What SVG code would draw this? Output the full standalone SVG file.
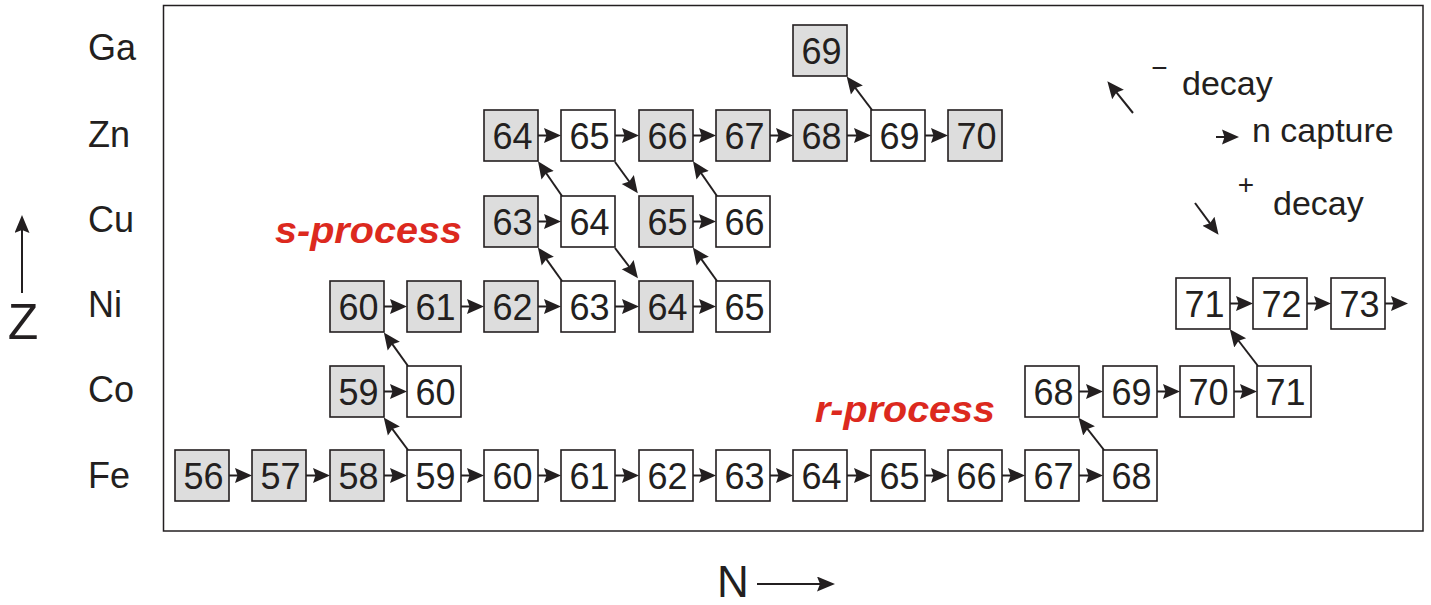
<svg xmlns="http://www.w3.org/2000/svg" width="1431" height="605" viewBox="0 0 1431 605">
<style>
.b{fill:#fff;stroke:#231f20;stroke-width:1.6}
.g{fill:#dddddd;stroke:#231f20;stroke-width:1.6}
.n{font-family:"Liberation Sans",Arial,sans-serif;font-size:36px;fill:#231f20;text-anchor:middle}
.lab{font-family:"Liberation Sans",Arial,sans-serif;font-size:36px;fill:#231f20}
.leg{font-family:"Liberation Sans",Arial,sans-serif;font-size:34px;fill:#231f20}
.proc{font-family:"Liberation Sans",Arial,sans-serif;font-size:36px;font-weight:bold;font-style:italic;fill:#dc291e}
.c line{stroke:#231f20;stroke-width:2;marker-end:url(#ah)}
.ax{stroke:#231f20;stroke-width:2;marker-end:url(#ahb)}
</style>
<defs>
<marker id="ah" markerUnits="userSpaceOnUse" markerWidth="18" markerHeight="18" refX="8" refY="8.5" orient="auto">
<path d="M0,1 L17,8.5 L0,16 L2.5,8.5 z" fill="#231f20"/>
</marker>
<marker id="ahb" markerUnits="userSpaceOnUse" markerWidth="19" markerHeight="16" refX="8" refY="7.5" orient="auto">
<path d="M0,0 L18,7.5 L0,15 L3,7.5 z" fill="#231f20"/>
</marker>
</defs>
<rect x="163.5" y="5.5" width="1259.5" height="525.5" fill="none" stroke="#231f20" stroke-width="1.5"/>
<g id="labels">
<text class="lab" x="88" y="60">Ga</text>
<text class="lab" x="88" y="147">Zn</text>
<text class="lab" x="88" y="232">Cu</text>
<text class="lab" x="88" y="317">Ni</text>
<text class="lab" x="88" y="402">Co</text>
<text class="lab" x="88" y="488">Fe</text>
</g>
<g id="axes">
<line class="ax" x1="22" y1="293" x2="22" y2="225"/>
<text class="lab" x="23" y="339" style="font-size:50px;text-anchor:middle">Z</text>
<line class="ax" x1="757" y1="584" x2="825" y2="584"/>
<text class="lab" x="717" y="597" style="font-size:44px">N</text>
</g>
<text class="proc" x="275" y="243" textLength="187" lengthAdjust="spacingAndGlyphs">s-process</text>
<text class="proc" x="815" y="422" textLength="180" lengthAdjust="spacingAndGlyphs">r-process</text>
<g id="legend">
<g class="c">
<line x1="1133" y1="113" x2="1113" y2="88.2"/>
<line x1="1216" y1="137" x2="1230" y2="137"/>
<line x1="1195" y1="203" x2="1213.2" y2="227.6"/>
</g>
<text class="leg" x="1159.5" y="77" style="font-size:28px;text-anchor:middle">−</text>
<text class="leg" x="1182" y="95">decay</text>
<text class="leg" x="1252" y="142">n capture</text>
<text class="leg" x="1246" y="194" style="font-size:28px;text-anchor:middle">+</text>
<text class="leg" x="1273" y="215">decay</text>
</g>
<g id="fe56"><rect class="g" x="175" y="450" width="54" height="51"/><text class="n" x="203.5" y="488.5">56</text></g>
<g id="fe57"><rect class="g" x="252" y="450" width="54" height="51"/><text class="n" x="280.5" y="488.5">57</text></g>
<g id="fe58"><rect class="g" x="330" y="450" width="54" height="51"/><text class="n" x="358.5" y="488.5">58</text></g>
<g id="fe59"><rect class="b" x="407" y="450" width="54" height="51"/><text class="n" x="435.5" y="488.5">59</text></g>
<g id="fe60"><rect class="b" x="484" y="450" width="54" height="51"/><text class="n" x="512.5" y="488.5">60</text></g>
<g id="fe61"><rect class="b" x="561" y="450" width="54" height="51"/><text class="n" x="589.5" y="488.5">61</text></g>
<g id="fe62"><rect class="b" x="639" y="450" width="54" height="51"/><text class="n" x="667.5" y="488.5">62</text></g>
<g id="fe63"><rect class="b" x="716" y="450" width="54" height="51"/><text class="n" x="744.5" y="488.5">63</text></g>
<g id="fe64"><rect class="b" x="793" y="450" width="54" height="51"/><text class="n" x="821.5" y="488.5">64</text></g>
<g id="fe65"><rect class="b" x="871" y="450" width="54" height="51"/><text class="n" x="899.5" y="488.5">65</text></g>
<g id="fe66"><rect class="b" x="948" y="450" width="54" height="51"/><text class="n" x="976.5" y="488.5">66</text></g>
<g id="fe67"><rect class="b" x="1025" y="450" width="54" height="51"/><text class="n" x="1053.5" y="488.5">67</text></g>
<g id="fe68"><rect class="b" x="1103" y="450" width="54" height="51"/><text class="n" x="1131.5" y="488.5">68</text></g>
<g id="co59"><rect class="g" x="330" y="366" width="54" height="51"/><text class="n" x="358.5" y="404.5">59</text></g>
<g id="co60"><rect class="b" x="407" y="366" width="54" height="51"/><text class="n" x="435.5" y="404.5">60</text></g>
<g id="co68"><rect class="b" x="1025" y="366" width="54" height="51"/><text class="n" x="1053.5" y="404.5">68</text></g>
<g id="co69"><rect class="b" x="1103" y="366" width="54" height="51"/><text class="n" x="1131.5" y="404.5">69</text></g>
<g id="co70"><rect class="b" x="1180" y="366" width="54" height="51"/><text class="n" x="1208.5" y="404.5">70</text></g>
<g id="co71"><rect class="b" x="1257" y="366" width="54" height="51"/><text class="n" x="1285.5" y="404.5">71</text></g>
<g id="ni60"><rect class="g" x="330" y="281" width="54" height="51"/><text class="n" x="358.5" y="319.5">60</text></g>
<g id="ni61"><rect class="g" x="407" y="281" width="54" height="51"/><text class="n" x="435.5" y="319.5">61</text></g>
<g id="ni62"><rect class="g" x="484" y="281" width="54" height="51"/><text class="n" x="512.5" y="319.5">62</text></g>
<g id="ni63"><rect class="b" x="561" y="281" width="54" height="51"/><text class="n" x="589.5" y="319.5">63</text></g>
<g id="ni64"><rect class="g" x="639" y="281" width="54" height="51"/><text class="n" x="667.5" y="319.5">64</text></g>
<g id="ni65"><rect class="b" x="716" y="281" width="54" height="51"/><text class="n" x="744.5" y="319.5">65</text></g>
<g id="ni71"><rect class="b" x="1176" y="278" width="54" height="51"/><text class="n" x="1204.5" y="316.5">71</text></g>
<g id="ni72"><rect class="b" x="1253" y="278" width="54" height="51"/><text class="n" x="1281.5" y="316.5">72</text></g>
<g id="ni73"><rect class="b" x="1331" y="278" width="54" height="51"/><text class="n" x="1359.5" y="316.5">73</text></g>
<g id="cu63"><rect class="g" x="484" y="196" width="54" height="51"/><text class="n" x="512.5" y="234.5">63</text></g>
<g id="cu64"><rect class="b" x="561" y="196" width="54" height="51"/><text class="n" x="589.5" y="234.5">64</text></g>
<g id="cu65"><rect class="g" x="639" y="196" width="54" height="51"/><text class="n" x="667.5" y="234.5">65</text></g>
<g id="cu66"><rect class="b" x="716" y="196" width="54" height="51"/><text class="n" x="744.5" y="234.5">66</text></g>
<g id="zn64"><rect class="g" x="484" y="110" width="54" height="51"/><text class="n" x="512.5" y="148.5">64</text></g>
<g id="zn65"><rect class="b" x="561" y="110" width="54" height="51"/><text class="n" x="589.5" y="148.5">65</text></g>
<g id="zn66"><rect class="g" x="639" y="110" width="54" height="51"/><text class="n" x="667.5" y="148.5">66</text></g>
<g id="zn67"><rect class="g" x="716" y="110" width="54" height="51"/><text class="n" x="744.5" y="148.5">67</text></g>
<g id="zn68"><rect class="g" x="793" y="110" width="54" height="51"/><text class="n" x="821.5" y="148.5">68</text></g>
<g id="zn69"><rect class="b" x="871" y="110" width="54" height="51"/><text class="n" x="899.5" y="148.5">69</text></g>
<g id="zn70"><rect class="g" x="948" y="110" width="54" height="51"/><text class="n" x="976.5" y="148.5">70</text></g>
<g id="ga69"><rect class="g" x="793" y="25" width="54" height="51"/><text class="n" x="821.5" y="63.5">69</text></g>
<g id="connectors" class="c">
<line x1="229" y1="475.5" x2="243" y2="475.5"/>
<line x1="306" y1="475.5" x2="321" y2="475.5"/>
<line x1="384" y1="475.5" x2="398" y2="475.5"/>
<line x1="461" y1="475.5" x2="475" y2="475.5"/>
<line x1="538" y1="475.5" x2="552" y2="475.5"/>
<line x1="615" y1="475.5" x2="630" y2="475.5"/>
<line x1="693" y1="475.5" x2="707" y2="475.5"/>
<line x1="770" y1="475.5" x2="784" y2="475.5"/>
<line x1="847" y1="475.5" x2="862" y2="475.5"/>
<line x1="925" y1="475.5" x2="939" y2="475.5"/>
<line x1="1002" y1="475.5" x2="1016" y2="475.5"/>
<line x1="1079" y1="475.5" x2="1094" y2="475.5"/>
<line x1="384" y1="391.5" x2="398" y2="391.5"/>
<line x1="1079" y1="391.5" x2="1094" y2="391.5"/>
<line x1="1157" y1="391.5" x2="1171" y2="391.5"/>
<line x1="1234" y1="391.5" x2="1248" y2="391.5"/>
<line x1="384" y1="306.5" x2="398" y2="306.5"/>
<line x1="461" y1="306.5" x2="475" y2="306.5"/>
<line x1="538" y1="306.5" x2="552" y2="306.5"/>
<line x1="615" y1="306.5" x2="630" y2="306.5"/>
<line x1="693" y1="306.5" x2="707" y2="306.5"/>
<line x1="1230" y1="303.5" x2="1244" y2="303.5"/>
<line x1="1307" y1="303.5" x2="1322" y2="303.5"/>
<line x1="1385" y1="303.5" x2="1399" y2="303.5"/>
<line x1="538" y1="221.5" x2="552" y2="221.5"/>
<line x1="693" y1="221.5" x2="707" y2="221.5"/>
<line x1="538" y1="135.5" x2="552" y2="135.5"/>
<line x1="615" y1="135.5" x2="630" y2="135.5"/>
<line x1="693" y1="135.5" x2="707" y2="135.5"/>
<line x1="770" y1="135.5" x2="784" y2="135.5"/>
<line x1="847" y1="135.5" x2="862" y2="135.5"/>
<line x1="925" y1="135.5" x2="939" y2="135.5"/>
<line x1="408" y1="450" x2="389.1" y2="424.7"/>
<line x1="408" y1="366" x2="389.1" y2="339.7"/>
<line x1="562" y1="281" x2="543.1" y2="254.7"/>
<line x1="562" y1="196" x2="543.1" y2="168.7"/>
<line x1="717" y1="281" x2="698.1" y2="254.7"/>
<line x1="717" y1="196" x2="698.1" y2="168.7"/>
<line x1="872" y1="110" x2="852.1" y2="83.7"/>
<line x1="1104" y1="450" x2="1084.1" y2="424.7"/>
<line x1="1258" y1="366" x2="1235.3" y2="336.5"/>
<line x1="615" y1="162" x2="632.5" y2="186"/>
<line x1="615" y1="248" x2="632.5" y2="271"/>
</g>
</svg>
